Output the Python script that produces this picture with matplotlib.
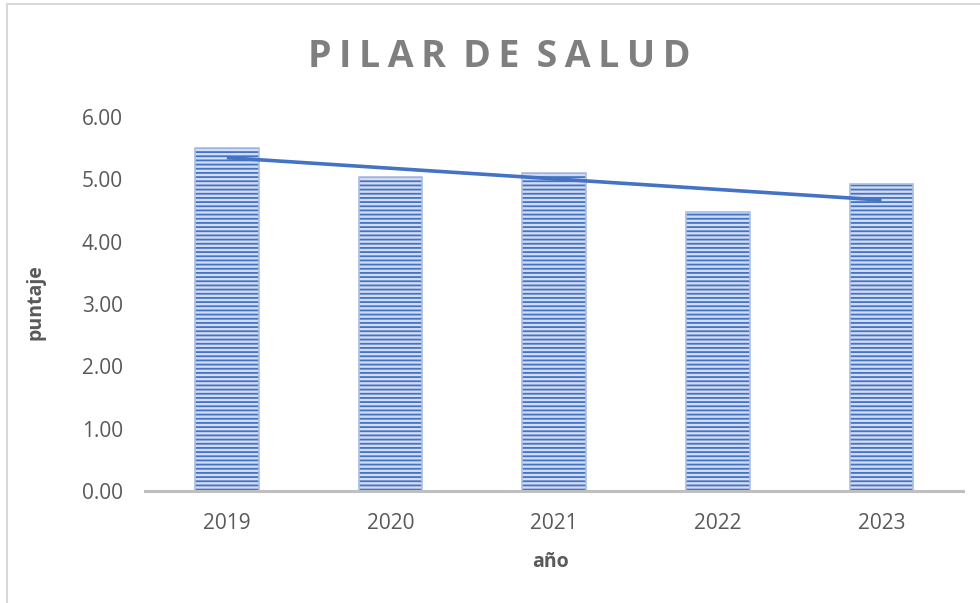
import numpy as np
import matplotlib.pyplot as plt
from matplotlib.patches import Rectangle

# data
years = ["2019", "2020", "2021", "2022", "2023"]
puntaje = [5.50, 5.04, 5.10, 4.48, 4.93]
y_ticks = [0, 1, 2, 3, 4, 5, 6]

bar_blue = "#4472C4"
text_grey = "#595959"

plt.rcParams['font.family'] = ['Open Sans', 'DejaVu Sans']
plt.rcParams['hatch.linewidth'] = 1.3

fig = plt.figure(figsize=(9.8, 6.03), dpi=100)
ax = fig.add_axes([0.148, 0.1857, 0.835, 0.620])

x = np.arange(len(years))
# striped fill (hatch takes the edge colour), then a light outline on top
ax.bar(x, puntaje, width=0.39, color="#D3DDF2", edgecolor=bar_blue,
       linewidth=0, hatch="----")
ax.bar(x, puntaje, width=0.39, color="none", edgecolor="#A9BEE6",
       linewidth=1.2)

# linear trend line like Excel's
slope, inter = np.polyfit(x, puntaje, 1)
ax.plot(x[[0, -1]], inter + slope * x[[0, -1]], color=bar_blue, lw=2.6,
        solid_capstyle="butt")

ax.set_xlim(-0.5, len(years) - 0.5)
ax.set_ylim(0, 6)
ax.set_xticks(x)
ax.set_xticklabels(years)
ax.set_yticks(y_ticks)
ax.set_yticklabels([f"{v:.2f}" for v in y_ticks])
ax.tick_params(axis="both", length=0, labelsize=15, colors=text_grey)
ax.tick_params(axis="y", pad=16)
ax.tick_params(axis="x", pad=16)

for s in ["top", "right", "left"]:
    ax.spines[s].set_visible(False)
ax.spines["bottom"].set_color("#BFBFBF")
ax.spines["bottom"].set_linewidth(2.2)

ax.set_ylabel("puntaje", fontsize=14, fontweight="bold", color=text_grey,
              va="center")
ax.yaxis.set_label_coords(-0.134, 0.505)
ax.set_xlabel("año", fontsize=14, fontweight="bold", color=text_grey,
              va="center")
ax.xaxis.set_label_coords(0.496, -0.19)

thin = "\u2009"
title = (thin + " ").join(thin.join(w) for w in ["PILAR", "DE", "SALUD"])
fig.text(0.509, 0.905, title, ha="center", va="center", fontsize=27,
         fontweight="bold", color="#7F7F7F")

# chart border (only top and left edges are visible in the reference)
fig.patches.append(Rectangle((7 / 980, -0.1), 1.2, 1.1 - 4.5 / 603,
                             transform=fig.transFigure, fill=False,
                             edgecolor="#D9D9D9", lw=1.5))

fig.savefig("out.png", dpi=100)
